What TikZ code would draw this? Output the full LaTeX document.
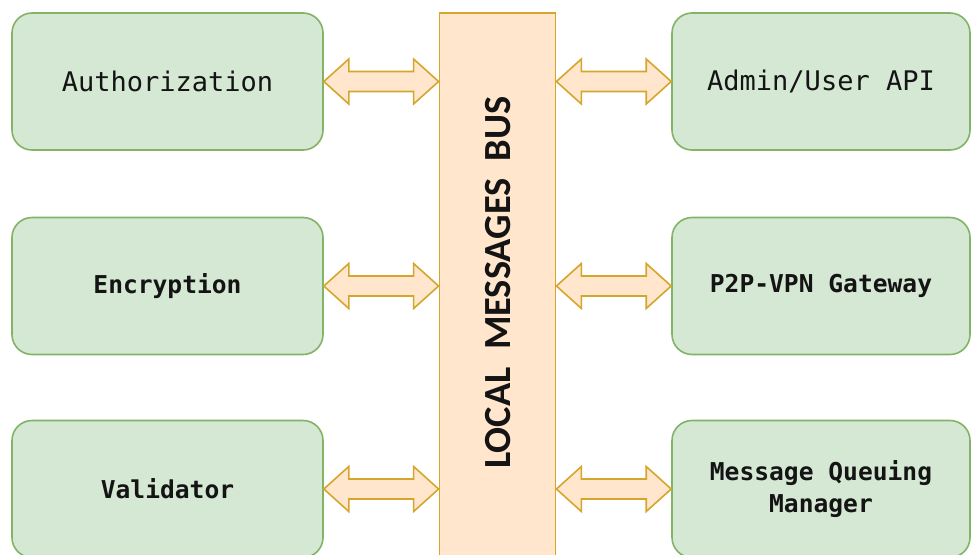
\documentclass[tikz,border=0pt]{standalone}
\usepackage{fontspec}
\newfontfamily\monofont{DejaVu Sans Mono}
\newfontfamily\busfont{Carlito}
\usetikzlibrary{calc}

\definecolor{modfill}{HTML}{D5E8D4}
\definecolor{moddraw}{HTML}{82B366}
\definecolor{busfill}{HTML}{FFE6CC}
\definecolor{busdraw}{HTML}{D6A62C}
\definecolor{ink}{HTML}{141414}

\tikzset{
  module/.style={draw=moddraw, fill=modfill, line width=1.6pt, rounded corners=20pt,
    minimum height=137pt, inner sep=0pt, text=ink, align=center},
  leftmod/.style={module, minimum width=311pt},
  rightmod/.style={module, minimum width=298pt},
  plainlabel/.style={font=\monofont\fontsize{27}{32}\selectfont},
  boldlabel/.style={font=\monofont\bfseries\fontsize{24.6}{32}\selectfont},
  busbox/.style={draw=busdraw, fill=busfill, line width=1.8pt, minimum width=116pt,
    minimum height=560pt, inner sep=0pt},
  buslabel/.style={font=\busfont\bfseries\fontsize{38.4}{40}\selectfont, text=ink, inner sep=0pt},
  % block-shaped double arrow between two points at the same height
  buslink/.style={draw=busdraw, fill=busfill, line width=1.6pt, line join=miter,
    to path={let \p1=(\tikztostart), \p2=(\tikztotarget) in
      (\x1,\y1) -- (\x1+25pt,\y1+22.5pt) -- (\x1+25pt,\y1+10pt)
      -- (\x2-25pt,\y1+10pt) -- (\x2-25pt,\y1+22.5pt) -- (\x2,\y1)
      -- (\x2-25pt,\y1-22.5pt) -- (\x2-25pt,\y1-10pt)
      -- (\x1+25pt,\y1-10pt) -- (\x1+25pt,\y1-22.5pt) -- cycle}}
}

\begin{document}
\begin{tikzpicture}[x=1pt, y=-1pt]
  \useasboundingbox (0,0) rectangle (973,554);
  \clip (0,0) rectangle (973,554);
  \fill[white] (0,0) rectangle (973,554);

  % central message bus
  \node[busbox] (bus) at (497.5,293) {};
  \node[buslabel] (busname) at (498.5,282.5) {\rotatebox{90}{LOCAL\ \ MESSAGES\ \ BUS}};

  % modules on the left
  \node[leftmod, plainlabel] (auth) at (167.5,81.5) {Authorization};
  \node[leftmod, boldlabel] (enc) at (167.5,286) {Encryption};
  \node[leftmod, boldlabel] (valid) at (167.5,489) {Validator};

  % modules on the right
  \node[rightmod, plainlabel] (api) at (821,81.5) {Admin/User API};
  \node[rightmod, boldlabel] (vpn) at (821,286) {P2P-VPN Gateway};
  \node[rightmod, boldlabel] (mqm) at (821,489) {Message Queuing\\Manager};

  % links to the bus
  \draw[buslink] (auth.east) to (bus.west |- auth.east);
  \draw[buslink] (enc.east) to (bus.west |- enc.east);
  \draw[buslink] (valid.east) to (bus.west |- valid.east);
  \draw[buslink] (bus.east |- api.west) to (api.west);
  \draw[buslink] (bus.east |- vpn.west) to (vpn.west);
  \draw[buslink] (bus.east |- mqm.west) to (mqm.west);
\end{tikzpicture}
\end{document}
